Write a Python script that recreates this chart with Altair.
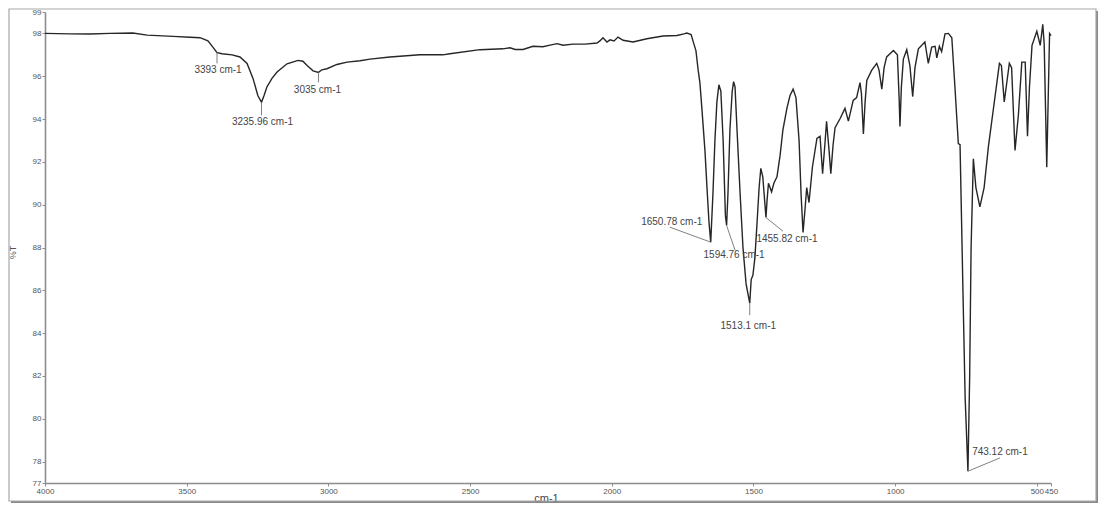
import altair as alt
import pandas as pd

# ---- data ----
wavenumber = [
    4000, 3912, 3841, 3771, 3690, 3640, 3548, 3488, 3453, 3425, 3407, 3393, 3375, 3340,
    3312, 3287, 3266, 3249, 3235.96, 3227, 3217, 3199, 3181, 3146, 3107, 3090, 3075, 3054,
    3035, 3023, 3005, 2970, 2934, 2888, 2853, 2783, 2677, 2596, 2571, 2465, 2384, 2359,
    2341, 2313, 2278, 2243, 2218, 2193, 2172, 2137, 2094, 2052, 2042, 2031, 2017, 2006,
    1992, 1978, 1960, 1925, 1876, 1819, 1770, 1745, 1735, 1720, 1710, 1703, 1695, 1689,
    1682, 1671, 1664, 1657, 1650.78, 1643, 1636, 1629, 1622, 1615, 1607, 1599, 1594.76,
    1590, 1583, 1575, 1570, 1565, 1558, 1547, 1537, 1526, 1513.1, 1508, 1502, 1495, 1488,
    1480, 1474, 1467, 1455.82, 1452, 1447, 1436, 1428, 1417, 1406, 1396, 1382, 1371, 1360,
    1350, 1339, 1332, 1325, 1318, 1312, 1304, 1292, 1276, 1265, 1256, 1248, 1242, 1233,
    1227, 1219, 1212, 1195, 1177, 1165, 1148, 1136, 1124, 1119, 1112, 1106, 1100, 1083,
    1065, 1057, 1047, 1039, 1030, 1006, 992, 986, 983, 978, 971, 959, 948, 938, 930, 918,
    895, 883, 871, 859, 853, 844, 836, 824, 812, 800, 789, 777, 771, 766, 760, 753,
    743.12, 737, 732, 724, 715, 701, 686, 671, 654, 632, 625, 615, 605, 597, 589, 577,
    565, 553, 541, 533, 526, 517, 500, 488, 479, 474, 465, 455, 450,
]
transmittance = [
    98.0, 97.98, 97.97, 98.0, 98.02, 97.92, 97.86, 97.82, 97.8, 97.65, 97.35, 97.1, 97.05, 97.0,
    96.9, 96.6, 95.9, 95.1, 94.78, 95.1, 95.5, 95.9, 96.2, 96.58, 96.74, 96.7, 96.5, 96.25,
    96.18, 96.3, 96.35, 96.55, 96.66, 96.72, 96.8, 96.9, 97.0, 97.0, 97.05, 97.24, 97.28, 97.33,
    97.25, 97.25, 97.4, 97.38, 97.45, 97.52, 97.45, 97.5, 97.5, 97.55, 97.65, 97.8, 97.6, 97.7,
    97.65, 97.83, 97.68, 97.6, 97.75, 97.88, 97.9, 97.98, 98.02, 97.95, 97.5, 97.2, 96.27, 95.7,
    94.5, 92.5, 90.8, 89.2, 88.25, 90.5, 93.0, 94.8, 95.6, 95.3, 93.0, 89.5, 89.03,
    90.5, 93.5, 95.3, 95.75, 95.5, 93.5, 90.5, 88.0, 86.3, 85.4, 86.5, 86.7, 87.5, 89.0,
    90.8, 91.7, 91.3, 89.4, 90.2, 91.0, 90.6, 91.0, 91.3, 92.3, 93.5, 94.5, 95.1, 95.4,
    95.0, 93.0, 90.5, 88.7, 89.8, 90.8, 90.1, 91.75, 93.1, 93.2, 91.45, 92.8, 93.9, 92.5,
    91.45, 92.8, 93.6, 94.0, 94.5, 93.9, 94.87, 95.0, 95.7, 95.2, 93.3, 94.8, 95.8, 96.27,
    96.6, 96.3, 95.4, 96.4, 96.9, 97.2, 97.0, 95.0, 93.65, 95.5, 96.8, 97.24, 96.5, 95.05, 96.4, 97.28,
    97.6, 96.6, 97.36, 97.4, 96.86, 97.4, 97.15, 97.98, 98.0, 97.8, 95.5, 92.85, 92.8, 89.5, 85.5, 81.0,
    77.55, 82.0, 88.0, 92.14, 90.8, 89.9, 90.8, 92.7, 94.4, 96.6, 96.5, 94.8, 95.8, 96.6, 96.4, 92.53,
    94.2, 96.66, 96.66, 93.2, 95.5, 97.44, 98.1, 97.44, 98.42, 97.5, 91.75, 98.0, 97.9,
]

peak_wavenumbers = [3393, 3235.96, 3035, 1650.78, 1594.76, 1513.1, 1455.82, 743.12]
peak_labels = ["3393 cm-1", "3235.96 cm-1", "3035 cm-1", "1650.78 cm-1",
               "1594.76 cm-1", "1513.1 cm-1", "1455.82 cm-1", "743.12 cm-1"]

x_ticks = [4000, 3500, 3000, 2500, 2000, 1500, 1000, 500, 450]
y_ticks = [77, 78, 80, 82, 84, 86, 88, 90, 92, 94, 96, 98, 99]

# ---- layout / style (pixel offsets of the annotation leaders and labels) ----
leader_dx = [0, 0, 0, -41, 8.5, 0, 17, 32]
leader_dy = [10.7, 13, 10, -15, 25, 12, 13.7, -13.3]
label_dx = [1, 1, -1, -39, 7.5, -1.5, 21, 32]
label_dy = [17.7, 19.5, 17.5, -20, 30, 22.5, 21, -19]

W, H = 1006, 471
FONT = "Liberation Sans"

df = pd.DataFrame({"wn": wavenumber, "T": transmittance})
lookup = dict(zip(wavenumber, transmittance))

xscale = alt.Scale(domain=[450, 4000], reverse=True, nice=False, zero=False)
yscale = alt.Scale(domain=[77, 99], nice=False, zero=False)

X = alt.X("wn:Q", scale=xscale,
          axis=alt.Axis(values=x_ticks, format="d", title="cm-1", grid=False,
                        labelFlush=False, labelOverlap=False,
                        titleX=501, titleY=15, titleBaseline="middle",
                        titleAlign="center", titleFontSize=11, titleColor="#444",
                        titleFontWeight="normal", titleFont=FONT))
Y = alt.Y("T:Q", scale=yscale,
          axis=alt.Axis(values=y_ticks, format="d", title="%T", grid=False,
                        labelOverlap=False, labelFlush=False,
                        titleX=-33, titleY=240, titleAngle=270,
                        titleBaseline="middle", titleAlign="center",
                        titleFontSize=9, titleColor="#555",
                        titleFontWeight="normal", titleFont=FONT))

spectrum = alt.Chart(df).mark_line(color="#262626", strokeWidth=1.4).encode(
    x=X, y=Y, order=alt.Order("idx:Q"),
).transform_window(idx="row_number()")

layers = [spectrum]
for i, (w, lab) in enumerate(zip(peak_wavenumbers, peak_labels)):
    d = pd.DataFrame({"wn": [w], "T": [lookup[w]], "label": [lab]})
    base = alt.Chart(d)
    layers.append(
        base.mark_rule(color="#808080", strokeWidth=1,
                       x2Offset=leader_dx[i], y2Offset=leader_dy[i]).encode(
            x=X, y=Y, x2="wn:Q", y2="T:Q")
    )
    layers.append(
        base.mark_text(dx=label_dx[i], dy=label_dy[i], fontSize=10, font=FONT,
                       color="#444", align="center", baseline="middle").encode(
            x=X, y=Y, text="label:N")
    )

# outer frame with a soft shadow
one = pd.DataFrame({"a": [0]})
frame = alt.Chart(one).mark_rect(fillOpacity=0, stroke="#a8a8a8", strokeWidth=1.2).encode(
    x=alt.value(-36), x2=alt.value(1051), y=alt.value(-3), y2=alt.value(489))
shadow_b = alt.Chart(one).mark_rule(color="#8a8a8a", strokeWidth=2.5).encode(
    x=alt.value(-34), x2=alt.value(1053), y=alt.value(490.5))
shadow_r = alt.Chart(one).mark_rule(color="#8a8a8a", strokeWidth=2.5).encode(
    x=alt.value(1052.5), y=alt.value(-1), y2=alt.value(491.5))
layers += [frame, shadow_b, shadow_r]

chart = alt.layer(*layers).properties(
    width=W, height=H,
    autosize=alt.AutoSizeParams(type="none"),
    padding={"left": 37, "top": 4, "right": 47, "bottom": 20},
    background="white",
).configure_view(strokeOpacity=0).configure_axis(
    domainColor="#8c8c8c", domainWidth=1.6, tickColor="#8c8c8c", tickSize=3,
    tickWidth=1, labelColor="#555", labelFontSize=8, labelFont=FONT, labelPadding=1,
    labelOverlap=False,
)

chart.save("out.html", embed_options={"renderer": "svg", "actions": False})
